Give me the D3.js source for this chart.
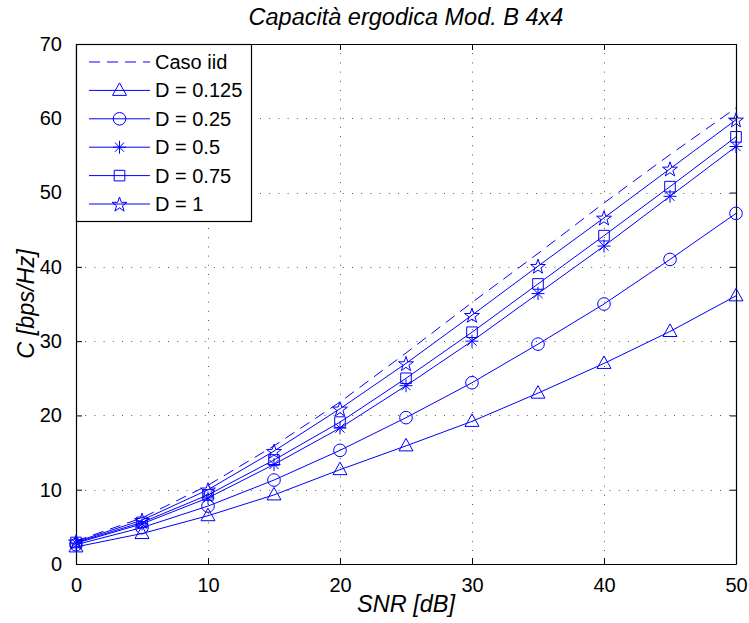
<!DOCTYPE html>
<html>
<head>
<meta charset="utf-8">
<script src="https://cdn.jsdelivr.net/npm/d3@7"></script>
<style>
  body { margin: 0; background: #fff; }
  svg { display: block; font-family: 'Liberation Sans', Arial, sans-serif; }
</style>
</head>
<body>
<svg id="plot" width="749" height="623"></svg>
<script>
const snr = [0, 5, 10, 15, 20, 25, 30, 35, 40, 45, 50]

const casoIid = [3.1, 6.2, 10.6, 15.9, 21.8, 28.4, 35.2, 41.8, 48.6, 55.1, 61.4]
const d0125 = [2.3, 4.1, 6.5, 9.3, 12.7, 15.9, 19.2, 23.0, 27.0, 31.3, 36.1]
const d025 = [2.6, 4.9, 7.8, 11.3, 15.3, 19.7, 24.4, 29.6, 35.0, 41.0, 47.2]
const d05 = [2.8, 5.4, 8.9, 13.4, 18.3, 24.0, 30.0, 36.4, 42.8, 49.5, 56.2]
const d075 = [2.9, 5.6, 9.3, 14.0, 19.1, 25.0, 31.2, 37.7, 44.2, 50.8, 57.5]
const d1 = [3.0, 5.9, 10.0, 15.2, 20.9, 27.0, 33.5, 40.1, 46.6, 53.2, 59.8]

const legendLabels = ['Caso iid', 'D = 0.125', 'D = 0.25', 'D = 0.5', 'D = 0.75', 'D = 1']
const xTicks = [0, 10, 20, 30, 40, 50]
const yTicks = [0, 10, 20, 30, 40, 50, 60, 70]

const series = [
  { values: casoIid, marker: null, dashed: true },
  { values: d0125, marker: 'triangle' },
  { values: d025, marker: 'circle' },
  { values: d05, marker: 'asterisk' },
  { values: d075, marker: 'square' },
  { values: d1, marker: 'star' }
]

const blue = '#0000ff'
const font = '"Liberation Sans", Arial, sans-serif'

// marker path generators, centred on 0,0
function markerPath(type) {
  if (type === 'triangle') return 'M0,-7.5L7,5L-7,5Z'
  if (type === 'circle') {
    const p = d3.path(); p.arc(0, 0, 6.3, 0, 2 * Math.PI); return p.toString()
  }
  if (type === 'square') return 'M-5.3,-5.3H5.3V5.3H-5.3Z'
  if (type === 'asterisk') return 'M0,-6.5V6.5M-6.5,0H6.5M-4.6,-4.6L4.6,4.6M-4.6,4.6L4.6,-4.6'
  if (type === 'star') {
    const pts = []
    for (let i = 0; i < 10; i++) {
      const r = i % 2 === 0 ? 7.8 : 3.1
      const a = -Math.PI / 2 + i * Math.PI / 5
      pts.push([r * Math.cos(a), r * Math.sin(a) + 0.8])
    }
    return 'M' + pts.map(p => p.join(',')).join('L') + 'Z'
  }
  return ''
}

function drawChart() {
  const svg = d3.select('#plot')
  svg.selectAll('*').remove()

  const left = 76, right = 736, top = 44, bottom = 564

  const x = d3.scaleLinear().domain([0, 50]).range([left, right])
  const y = d3.scaleLinear().domain([0, 70]).range([bottom, top])

  // dotted grid
  const grid = svg.append('g')
    .attr('stroke', '#555')
    .attr('stroke-width', 1)
    .attr('stroke-dasharray', '1,8.2')
  grid.selectAll('.gx')
    .data(xTicks.filter(d => d > 0 && d < 50))
    .join('line')
    .attr('x1', d => Math.round(x(d)) + 0.5).attr('x2', d => Math.round(x(d)) + 0.5)
    .attr('y1', top).attr('y2', bottom)
  grid.selectAll('.gy')
    .data(yTicks.filter(d => d > 0 && d < 70))
    .join('line')
    .attr('y1', d => Math.round(y(d)) + 0.5).attr('y2', d => Math.round(y(d)) + 0.5)
    .attr('x1', left).attr('x2', right)

  // axes (box with inward ticks)
  const tickLen = 6
  const axB = svg.append('g').attr('transform', `translate(0,${bottom})`)
    .call(d3.axisBottom(x).tickValues(xTicks).tickSizeInner(-tickLen).tickSizeOuter(0).tickPadding(14))
  const axT = svg.append('g').attr('transform', `translate(0,${top})`)
    .call(d3.axisTop(x).tickValues(xTicks).tickSizeInner(-tickLen).tickSizeOuter(0).tickFormat(''))
  const axL = svg.append('g').attr('transform', `translate(${left},0)`)
    .call(d3.axisLeft(y).tickValues(yTicks).tickSizeInner(-tickLen).tickSizeOuter(0).tickPadding(14))
  const axR = svg.append('g').attr('transform', `translate(${right},0)`)
    .call(d3.axisRight(y).tickValues(yTicks).tickSizeInner(-tickLen).tickSizeOuter(0).tickFormat(''))

  ;[axB, axT, axL, axR].forEach(a => {
    a.select('.domain').attr('stroke', '#000').attr('stroke-width', 1.2)
    a.selectAll('.tick line').attr('stroke', '#000')
    a.selectAll('text').attr('fill', '#000').style('font-size', '20px')
      .style('font-family', font)
  })

  // lines and markers
  const line = d3.line()
    .x((d, i) => x(snr[i]))
    .y(d => y(d))

  const plot = svg.append('g')
  series.forEach(s => {
    plot.append('path')
      .attr('d', line(s.values))
      .attr('fill', 'none')
      .attr('stroke', blue)
      .attr('stroke-width', 1)
      .attr('stroke-dasharray', s.dashed ? '11,7' : null)
    if (s.marker) {
      plot.selectAll(null)
        .data(s.values)
        .join('path')
        .attr('transform', (d, i) => `translate(${x(snr[i])},${y(d)})`)
        .attr('d', markerPath(s.marker))
        .attr('fill', 'none')
        .attr('stroke', blue)
        .attr('stroke-width', 1)
    }
  })

  // legend
  const lg = svg.append('g')
  lg.append('rect')
    .attr('x', left + 0.5).attr('y', top + 0.5)
    .attr('width', 175).attr('height', 177)
    .attr('fill', '#fff').attr('stroke', '#000').attr('stroke-width', 1.2)

  const rowY = i => 62 + i * 28.4
  const rows = lg.selectAll('g.row')
    .data(series)
    .join('g')
    .attr('transform', (d, i) => `translate(0,${rowY(i)})`)
  rows.append('line')
    .attr('x1', 89).attr('x2', 150)
    .attr('stroke', blue).attr('stroke-width', 1)
    .attr('stroke-dasharray', d => d.dashed ? '11,7' : null)
  rows.filter(d => d.marker)
    .append('path')
    .attr('transform', 'translate(119.5,0)')
    .attr('d', d => markerPath(d.marker))
    .attr('fill', 'none').attr('stroke', blue)
  rows.append('text')
    .attr('x', 155).attr('y', 7)
    .style('font-size', '20px').style('font-family', font)
    .text((d, i) => legendLabels[i])

  // title and labels
  svg.append('text')
    .attr('x', (left + right) / 2).attr('y', 25)
    .attr('text-anchor', 'middle')
    .style('font-size', '23.5px').style('font-style', 'italic').style('font-family', font)
    .text('Capacità ergodica Mod. B 4x4')

  svg.append('text')
    .attr('x', (left + right) / 2).attr('y', 612)
    .attr('text-anchor', 'middle')
    .style('font-size', '23.5px').style('font-style', 'italic').style('font-family', font)
    .text('SNR [dB]')

  svg.append('text')
    .attr('transform', `translate(34,${(top + bottom) / 2}) rotate(-90)`)
    .attr('text-anchor', 'middle')
    .style('font-size', '23.5px').style('font-style', 'italic').style('font-family', font)
    .text('C [bps/Hz]')
}

document.addEventListener('DOMContentLoaded', drawChart, false)
</script>
</body>
</html>
